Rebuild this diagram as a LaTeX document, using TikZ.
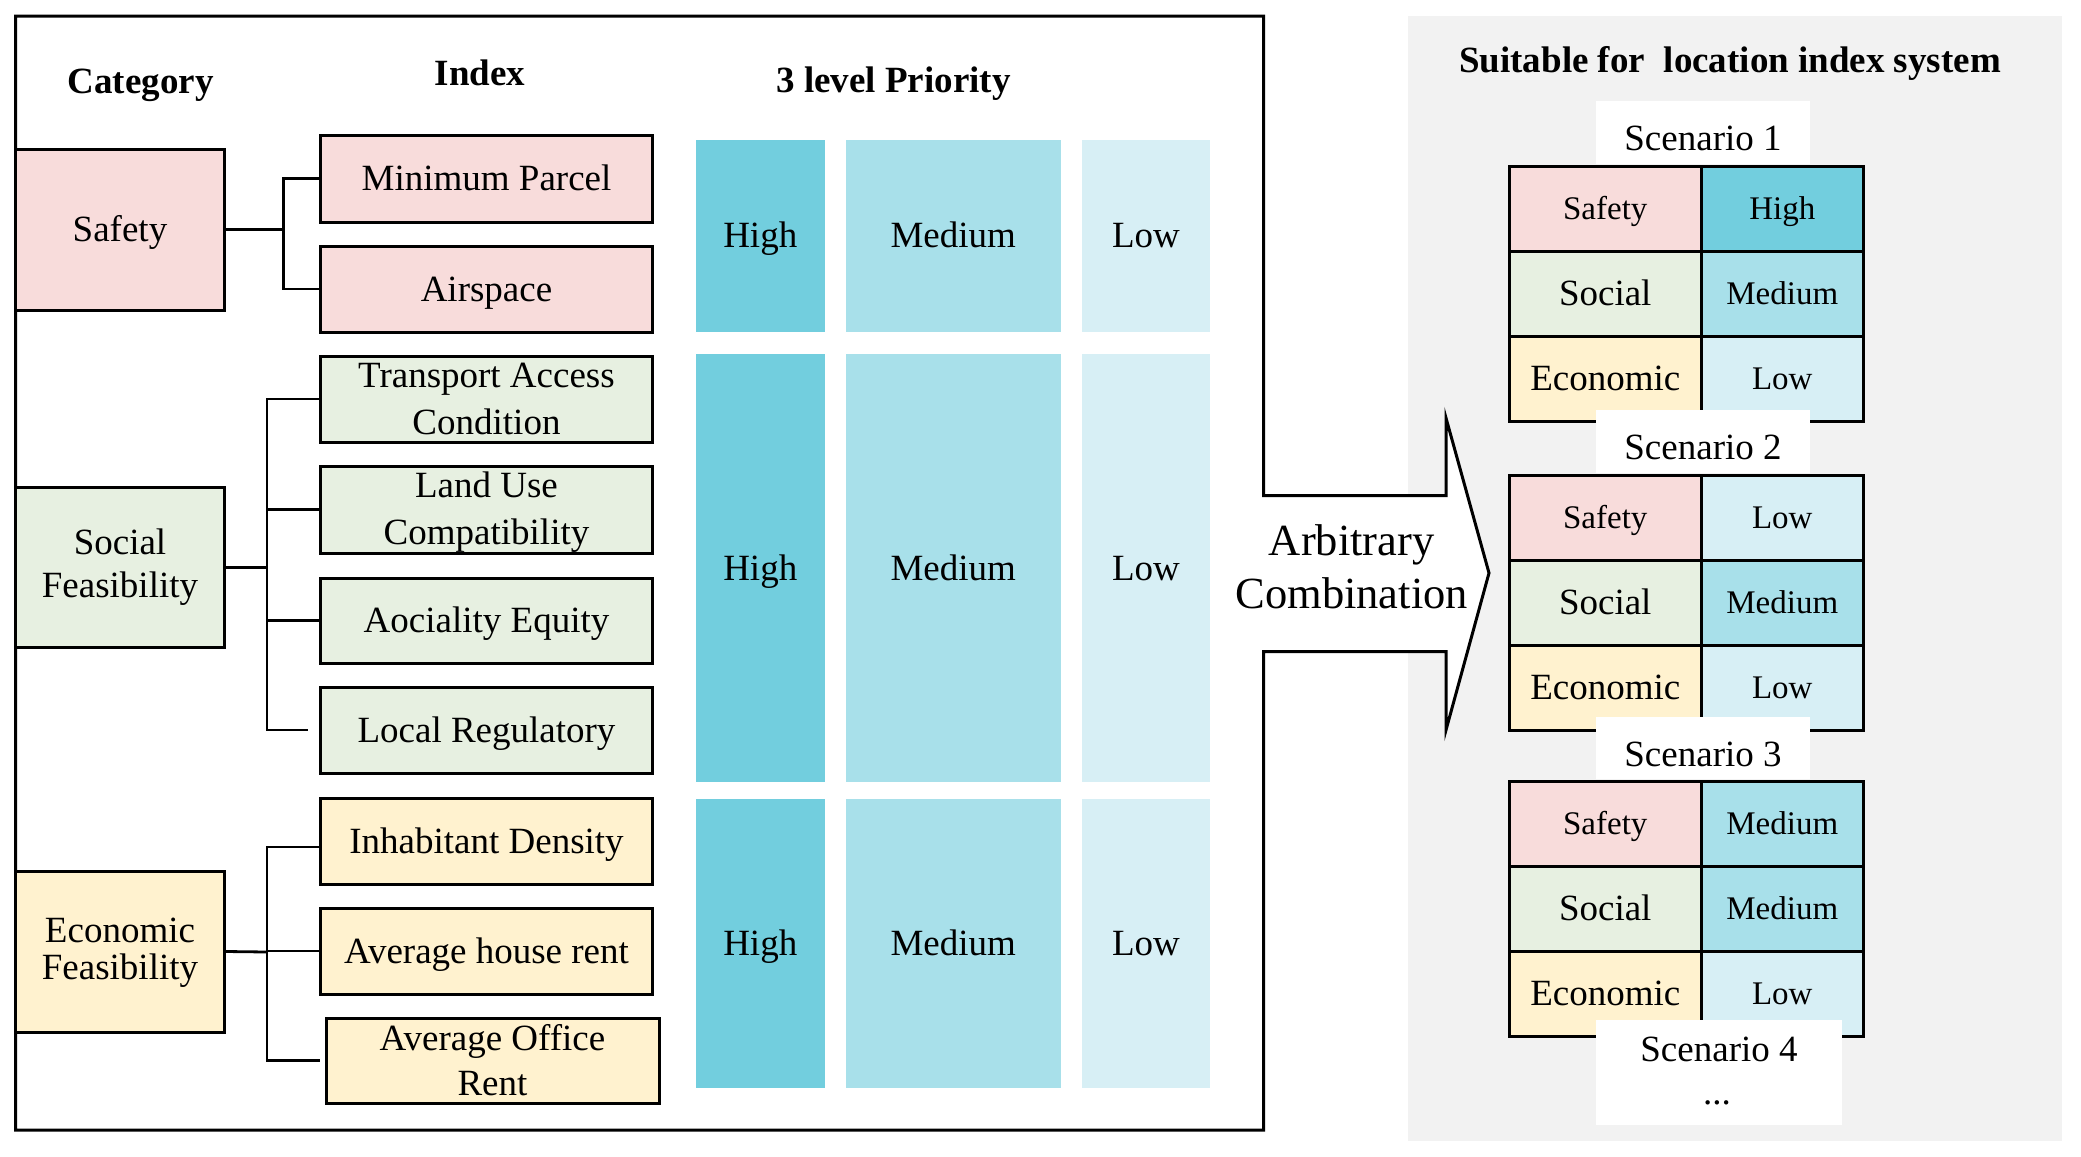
\documentclass[tikz,border=0pt]{standalone}
\usepackage{fontspec}
\setmainfont{Liberation Serif}
\definecolor{cpink}{HTML}{F8DCDB}
\definecolor{cgreen}{HTML}{E7F0E1}
\definecolor{cyellow}{HTML}{FFF2CF}
\definecolor{chigh}{HTML}{72CEDE}
\definecolor{cmed}{HTML}{A8E0EA}
\definecolor{clow}{HTML}{D7EFF5}
\definecolor{cgray}{HTML}{F2F2F2}
\tikzset{
  fbig/.style={font=\fontsize{37}{47}\selectfont},
  fsmall/.style={font=\fontsize{33}{40}\selectfont},
  fhead/.style={font=\fontsize{37}{47}\selectfont\bfseries},
  capbig/.style={fbig, text height=24.2pt, text depth=0pt},
  capsmall/.style={fsmall, text height=21.6pt, text depth=0pt},
  catbox/.style={draw, line width=3pt, inner sep=0pt, minimum width=209pt, minimum height=161pt},
  idxbox/.style={draw, line width=3pt, inner sep=0pt, minimum width=332pt, minimum height=86pt},
  prio/.style={inner sep=0pt, capbig},
  conn/.style={line width=2.8pt},
  frameline/.style={line width=3pt, fill=white, line join=miter},
  cell/.style={draw, line width=3pt, inner sep=0pt, minimum height=85pt},
  lcell/.style={cell, minimum width=191.5pt},
  rcell/.style={cell, minimum width=162.5pt},
  scen/.style={fill=white, inner sep=0pt},
  txt/.style={inner sep=0pt, anchor=base},
}
\begin{document}
\begin{tikzpicture}[x=1pt, y=-1pt]
\useasboundingbox (0,0) rectangle (2081,1157);
% gray panel
\fill[cgray] (1408,16) rectangle (2062,1141);
% frame with arrow
\draw[frameline] (15.6,16) -- (1263.5,16) -- (1263.5,495.7) -- (1446,495.7) -- (1446,418)
  -- (1489,573) -- (1446,730) -- (1446,651.7) -- (1263.5,651.7) -- (1263.5,1130)
  -- (15.6,1130) -- cycle;

% headings
\node[txt, fhead] (hcat) at (140.6,93) {Category};
\node[txt, fhead] (hidx) at (480,85) {Index};
\node[txt, fhead] (hpri) at (893.5,92.6) {3 level Priority};
\node[txt, fhead] (htit) at (1730,72.7) {Suitable for~ location index system};

% priority blocks
\foreach \g/\c/\h in {1/235.85/192.3, 2/568/428, 3/943.5/289}{
  \node[prio, fill=chigh, minimum width=128.5pt, minimum height=\h pt] (ph\g) at (760.25,\c) {High};
  \node[prio, fill=cmed, minimum width=214.5pt, minimum height=\h pt] (pm\g) at (953.25,\c) {Medium};
  \node[prio, fill=clow, minimum width=128pt, minimum height=\h pt] (pl\g) at (1146,\c) {Low};
}

% category boxes
\node[catbox, fill=cpink, capbig] (safety) at (120,229.5) {Safety};
\node[catbox, fill=cgreen, minimum height=160.6pt] (social) at (120,567.3) {};
\node[catbox, fill=cyellow] (eco) at (120,951.5) {};
\node[txt, fbig] (socialt1) at (120,554.6) {Social};
\node[txt, fbig] (socialt2) at (120,597.2) {Feasibility};
\node[txt, fbig] (ecot1) at (120,942) {Economic};
\node[txt, fbig] (ecot2) at (120,979.7) {Feasibility};

% index boxes
\node[idxbox, fill=cpink, capbig, minimum height=87pt] (mp) at (486.5,178.5) {Minimum Parcel};
\node[idxbox, fill=cpink, capbig] (as) at (486.5,289) {Airspace};
\node[idxbox, fill=cgreen] (tac) at (486.5,399) {};
\node[txt, fbig] (tact1) at (486.5,387.5) {Transport Access};
\node[txt, fbig] (tact2) at (486.5,434.4) {Condition};
\node[idxbox, fill=cgreen, minimum height=87pt] (luc) at (486.5,509.5) {};
\node[txt, fbig] (luct1) at (486.5,497.9) {Land Use};
\node[txt, fbig] (luct2) at (486.5,544.6) {Compatibility};
\node[idxbox, fill=cgreen, capbig, minimum height=85pt] (ae) at (486.5,620.5) {Aociality Equity};
\node[idxbox, fill=cgreen, capbig] (lr) at (486.5,730) {Local Regulatory};
\node[idxbox, fill=cyellow, capbig] (id) at (486.5,841) {Inhabitant Density};
\node[idxbox, fill=cyellow, capbig] (ahr) at (486.5,951) {Average house rent};
\node[idxbox, fill=cyellow, minimum width=333pt, minimum height=85.5pt] (aor) at (492.5,1060.75) {};
\node[txt, fbig] (aort1) at (492.5,1050) {Average Office};
\node[txt, fbig] (aort2) at (492.5,1095.8) {Rent};

% connectors
\coordinate (sj) at (283.5,229.5);
\coordinate (soj) at (267,567.3);
\coordinate (ej) at (267,952);
\draw[conn] (safety.east) -- (sj);
\draw[conn] (mp.west) -| (sj) |- (as.west);
\draw[conn] (social.east) -- (soj);
\draw[conn] (tac.west) -| (soj) |- ([xshift=-11.5pt]lr.west);
\draw[conn] (luc.west) -- (luc.west -| soj);
\draw[conn] (ae.west) -- (ae.west -| soj);
\draw[conn] (eco.east) -- (ej);
\draw[conn] ([yshift=-6pt]id.west) -| (ej) |- ([xshift=-5pt]aor.west);
\draw[conn] (ahr.west) -- (ahr.west -| ej);

% arrow label
\node[txt, font=\fontsize{44.5}{53}\selectfont] (arb1) at (1351.7,555) {Arbitrary};
\node[txt, font=\fontsize{44.5}{53}\selectfont] (arb2) at (1351.7,608) {Combination};

% scenario tables
\node[lcell, fill=cpink, capsmall] (t1a) at (1605.25,208.5) {Safety};
\node[rcell, fill=chigh, capsmall] (t1b) at (1782.25,208.5) {High};
\node[lcell, fill=cgreen, capbig] (t1c) at (1605.25,293.5) {Social};
\node[rcell, fill=cmed, capsmall] (t1d) at (1782.25,293.5) {Medium};
\node[lcell, fill=cyellow, capbig] (t1e) at (1605.25,378.5) {Economic};
\node[rcell, fill=clow, capsmall] (t1f) at (1782.25,378.5) {Low};

\node[lcell, fill=cpink, capsmall] (t2a) at (1605.25,517.5) {Safety};
\node[rcell, fill=clow, capsmall] (t2b) at (1782.25,517.5) {Low};
\node[lcell, fill=cgreen, capbig] (t2c) at (1605.25,602.5) {Social};
\node[rcell, fill=cmed, capsmall] (t2d) at (1782.25,602.5) {Medium};
\node[lcell, fill=cyellow, capbig] (t2e) at (1605.25,687.5) {Economic};
\node[rcell, fill=clow, capsmall] (t2f) at (1782.25,687.5) {Low};

\node[lcell, fill=cpink, capsmall] (t3a) at (1605.25,823.5) {Safety};
\node[rcell, fill=cmed, capsmall] (t3b) at (1782.25,823.5) {Medium};
\node[lcell, fill=cgreen, capbig] (t3c) at (1605.25,908.5) {Social};
\node[rcell, fill=cmed, capsmall] (t3d) at (1782.25,908.5) {Medium};
\node[lcell, fill=cyellow, capbig] (t3e) at (1605.25,993.5) {Economic};
\node[rcell, fill=clow, capsmall] (t3f) at (1782.25,993.5) {Low};

% scenario labels
\node[scen, minimum width=214pt, minimum height=63pt] (s1box) at (1703,132.5) {};
\node[scen, minimum width=214pt, minimum height=63pt] (s2box) at (1703,441.5) {};
\node[scen, minimum width=214pt, minimum height=62pt] (s3box) at (1703,748) {};
\node[scen, minimum width=246pt, minimum height=105pt] (s4box) at (1719,1072.5) {};
\node[txt, fbig] (s1) at (1703,150) {Scenario 1};
\node[txt, fbig] (s2) at (1703,459.6) {Scenario 2};
\node[txt, fbig] (s3) at (1703,766) {Scenario 3};
\node[txt, fbig] (s4) at (1719,1061.4) {Scenario 4};
\node[txt, fbig] (s5) at (1717,1104) {...};
\end{tikzpicture}
\end{document}
